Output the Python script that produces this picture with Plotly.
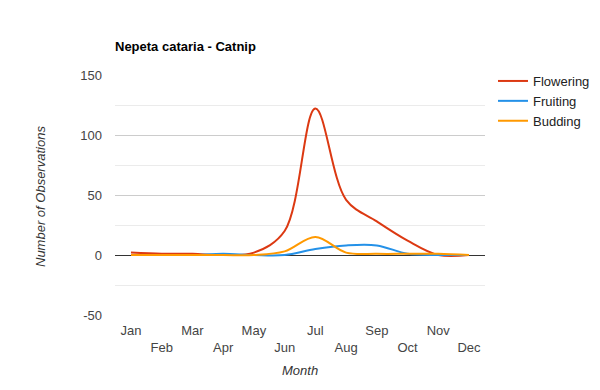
import plotly.graph_objects as go

months = ["Jan", "Feb", "Mar", "Apr", "May", "Jun", "Jul", "Aug", "Sep", "Oct", "Nov", "Dec"]
flowering = [2, 1, 1, 0, 2, 20, 122, 46, 28, 12, 0, 0]
fruiting = [0, 0, 0, 1, 0, 0, 5, 8, 8, 1, 0, 0]
budding = [0, 0, 0, 0, 0, 3, 15, 2, 1, 1, 1, 0]
y_ticks = [-50, 0, 50, 100, 150]
y_tick_labels = ["-50", "0", "50", "100", "150"]

series = [("Flowering", flowering, "#DC3912"),
          ("Fruiting", fruiting, "#2491E8"),
          ("Budding", budding, "#FF9900")]

x_idx = list(range(len(months)))
tick_text = [m if i % 2 == 0 else "<br>" + m for i, m in enumerate(months)]

fig = go.Figure()
for name, vals, color in series:
    fig.add_trace(go.Scatter(x=x_idx, y=vals, name=name, mode="lines",
                             line=dict(color=color, width=2, shape="spline", smoothing=1)))

fig.update_layout(
    width=600, height=390,
    margin=dict(l=115, r=115, t=75, b=75),
    paper_bgcolor="white", plot_bgcolor="white",
    font=dict(family="Liberation Sans, Arial, sans-serif", size=13, color="#444"),
    title=dict(text="<b>Nepeta cataria - Catnip</b>", x=115/600, xref="container", xanchor="left",
               y=1 - 46/390, yref="container", yanchor="middle",
               font=dict(size=13, color="#000")),
    showlegend=True,
    legend=dict(xref="container", yref="container", x=493/600, xanchor="left",
                y=1 - 66/390, yanchor="top",
                font=dict(size=13, color="#222"), tracegroupgap=0, itemwidth=30,
                bgcolor="rgba(0,0,0,0)"),
    xaxis=dict(range=[-0.52, 11.52], tickmode="array", tickvals=x_idx, ticktext=tick_text,
               showgrid=False, zeroline=False, showline=False, ticks="",
               ticklabelstandoff=6, tickangle=0, fixedrange=True, automargin=False),
    yaxis=dict(range=[-50, 150], tickmode="array", tickvals=y_ticks, ticktext=y_tick_labels,
               showgrid=True, gridcolor="#CCCCCC", gridwidth=1,
               minor=dict(tickvals=[-25, 25, 75, 125], showgrid=True, gridcolor="#EBEBEB", gridwidth=1),
               zeroline=True, zerolinecolor="#333333", zerolinewidth=1,
               showline=False, ticks="", ticklabelstandoff=12, fixedrange=True, automargin=False),
    annotations=[
        dict(text="<i>Month</i>", x=(300-115)/370, y=(315-370)/240, xref="paper", yref="paper",
             showarrow=False, xanchor="center", yanchor="middle",
             font=dict(size=13, color="#333")),
        dict(text="<i>Number of Observations</i>", x=(40-115)/370, y=(315-197)/240,
             xref="paper", yref="paper",
             showarrow=False, textangle=-90, xanchor="center", yanchor="middle",
             font=dict(size=13, color="#333")),
    ],
)

fig.write_html("out.html", config={"displayModeBar": False},
               post_script="document.body.style.margin='0px';")
